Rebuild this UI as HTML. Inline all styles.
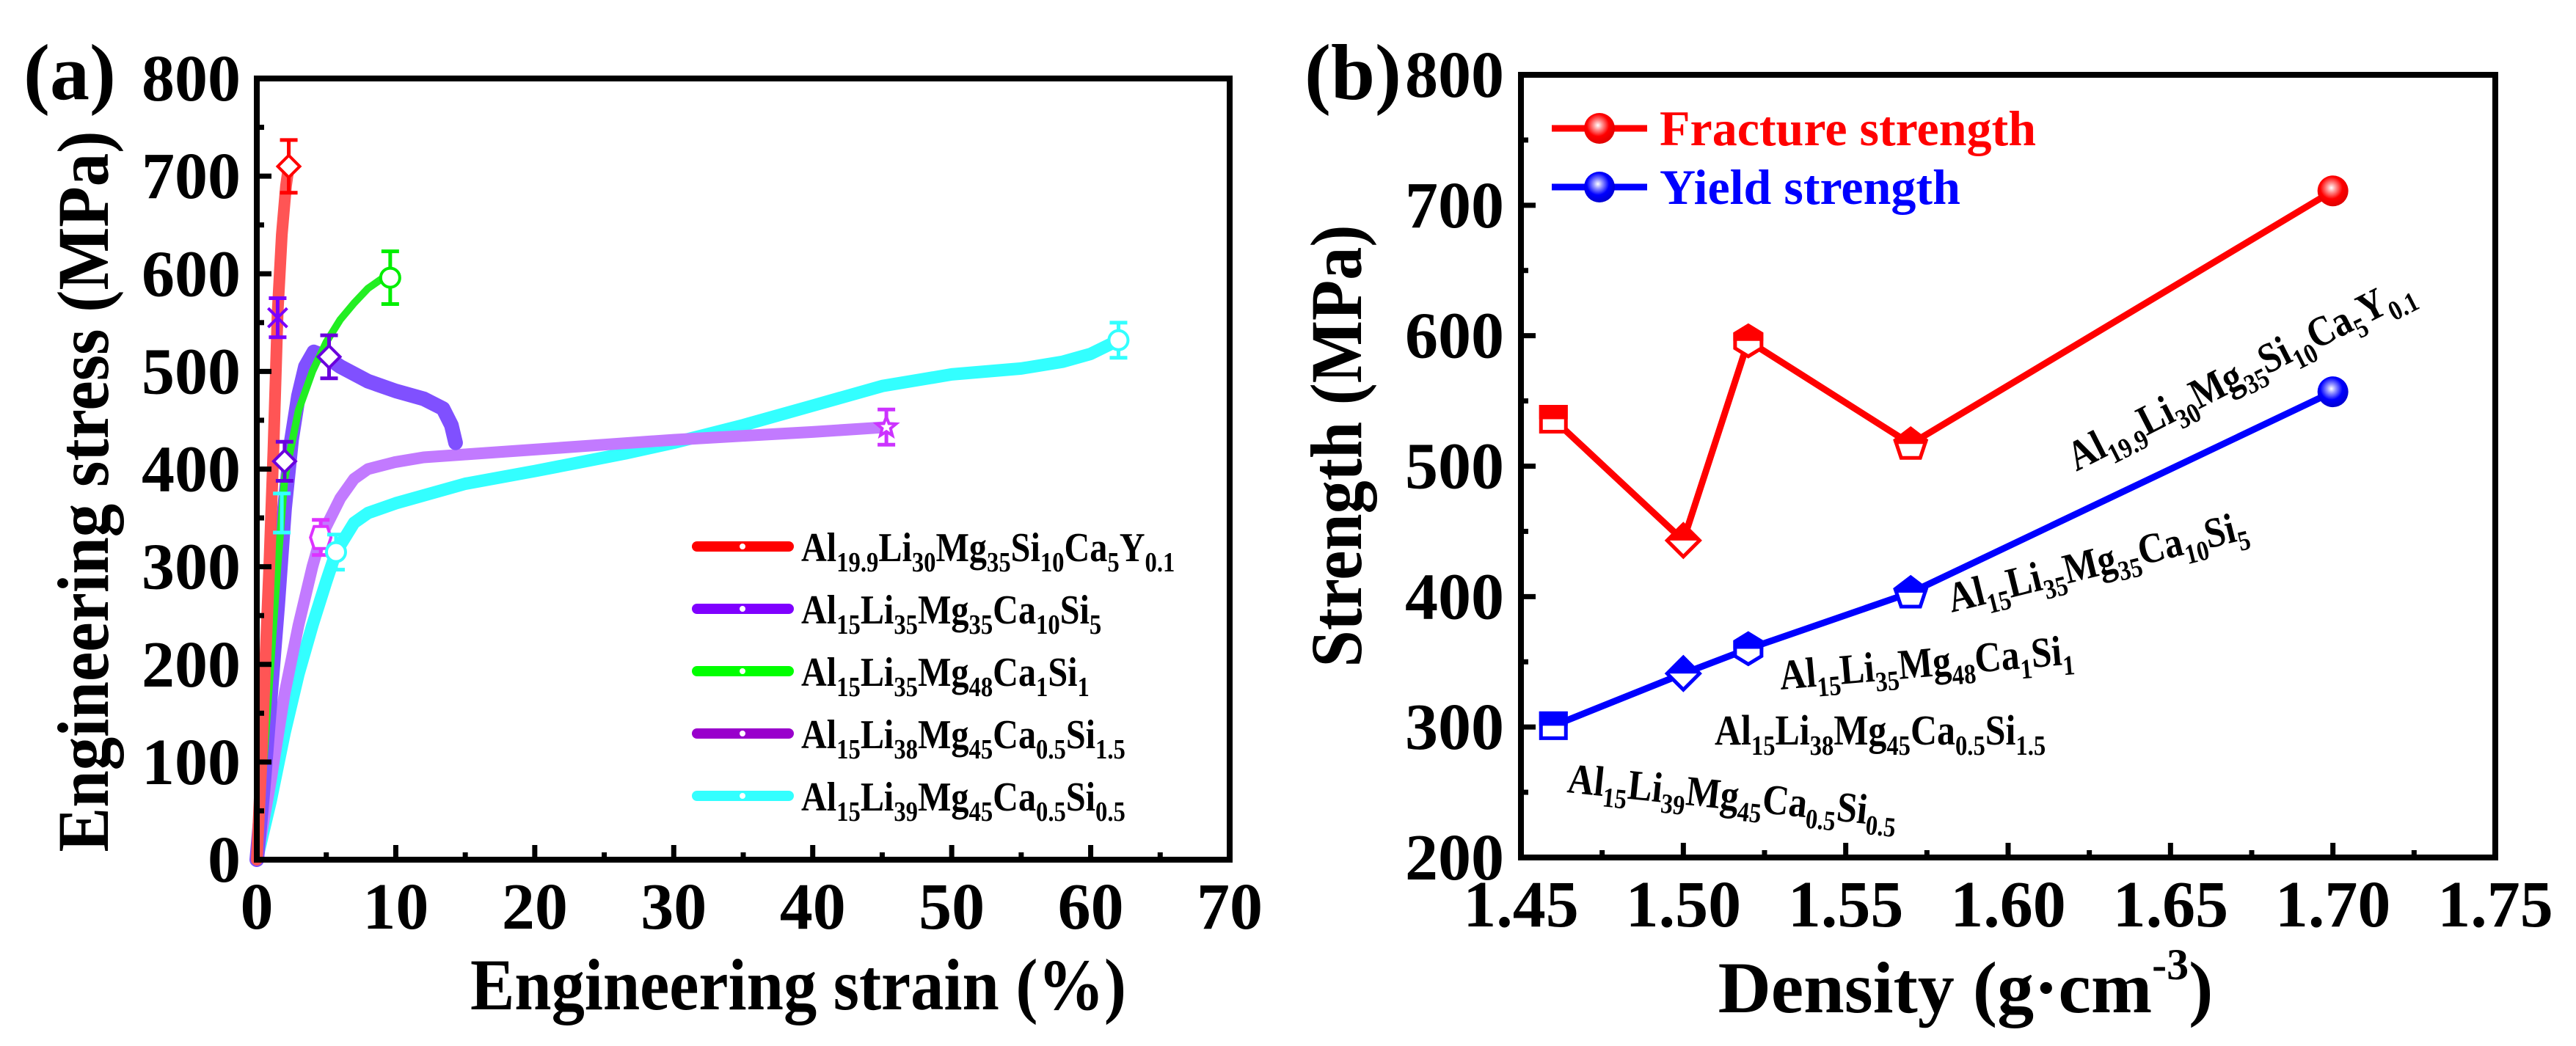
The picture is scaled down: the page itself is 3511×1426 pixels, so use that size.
<!DOCTYPE html>
<html><head><meta charset="utf-8"><style>
html,body{margin:0;padding:0;background:#fff}
svg{display:block}
text{font-family:"Liberation Serif",serif;font-weight:bold;fill:#000}
</style></head><body>
<svg id="fig" width="3511" height="1426" viewBox="0 0 3511 1426" xmlns="http://www.w3.org/2000/svg">
<defs>
<radialGradient id="gR" cx="0.45" cy="0.4" r="0.6"><stop offset="0" stop-color="#fff"/><stop offset="0.25" stop-color="#ff9090"/><stop offset="0.6" stop-color="#ff0000"/><stop offset="1" stop-color="#e00000"/></radialGradient>
<radialGradient id="gB" cx="0.45" cy="0.4" r="0.6"><stop offset="0" stop-color="#fff"/><stop offset="0.25" stop-color="#9090ff"/><stop offset="0.6" stop-color="#0000ff"/><stop offset="1" stop-color="#0000d0"/></radialGradient>
</defs>
<g id="pa"></g>
<g id="pb"></g>
</svg>
<script>
// ===== Panel (a) data =====
const aXTicks = [0,10,20,30,40,50,60,70];
const aYTicks = [0,100,200,300,400,500,600,700,800];
const redStrain = [0,0.3,0.6,0.9,1.2,1.5,1.8,2.1,2.3];
const redStress = [0,90,200,300,420,560,640,690,710];
const violetStrain = [0,0.5,1,1.5,2,2.5,3,3.5,4.1,5,6,8,10,12,13.4,14,14.3];
const violetStress = [0,80,170,260,360,430,475,505,520,515,505,490,480,472,462,445,427];
const greenStrain = [0,0.5,1,1.5,2,3,4,5,6,7,8,9,9.6];
const greenStress = [0,100,200,300,390,460,500,530,553,570,585,595,598];
const purpleStrain = [0,1,2,3,4,4.6,5.3,6,7,8,9.9,12,15,20,25,30,35,40,45.3];
const purpleStress = [0,80,170,240,300,330,350,370,390,400,407,412,415,420,425,430,434,438,443];
const cyanStrain = [0,1,2,3,4,5,5.7,7,8,10,15,20,26.5,30,35,40,45,50,55,58,60,62];
const cyanStress = [0,60,130,190,240,285,315,345,355,365,385,398,416,427,445,465,485,497,503,510,518,532];
// markers: [strain, stress, error]
const redMarks = [[2.3,710,27]];
const violetMarks = [[1.5,555,20],[2.0,408,20],[5.2,515,22]];
const greenMarks = [[9.6,596,27]];
const purpleMarks = [[4.6,330,18],[45.3,443,18]];
const cyanMarks = [[1.8,355,20],[5.7,315,18],[62,532,18]];
const aLegendNames = [
 [["Al",""],["19.9","s"],["Li",""],["30","s"],["Mg",""],["35","s"],["Si",""],["10","s"],["Ca",""],["5","s"],["Y",""],["0.1","s"]],
 [["Al",""],["15","s"],["Li",""],["35","s"],["Mg",""],["35","s"],["Ca",""],["10","s"],["Si",""],["5","s"]],
 [["Al",""],["15","s"],["Li",""],["35","s"],["Mg",""],["48","s"],["Ca",""],["1","s"],["Si",""],["1","s"]],
 [["Al",""],["15","s"],["Li",""],["38","s"],["Mg",""],["45","s"],["Ca",""],["0.5","s"],["Si",""],["1.5","s"]],
 [["Al",""],["15","s"],["Li",""],["39","s"],["Mg",""],["45","s"],["Ca",""],["0.5","s"],["Si",""],["0.5","s"]]
];
// ===== Panel (b) data =====
const density = [1.46,1.50,1.52,1.57,1.70];
const fracture = [536,443,596,517,711];
const yieldS = [301,341,360,403,557];
const bXTicks = [1.45,1.50,1.55,1.60,1.65,1.70,1.75];
const bYTicks = [200,300,400,500,600,700,800];

const NS="http://www.w3.org/2000/svg";
function mk(tag,attrs,parent){const e=document.createElementNS(NS,tag);for(const k in attrs)e.setAttribute(k,attrs[k]);if(parent)parent.appendChild(e);return e;}

// ---------- Panel a ----------
const pa=document.getElementById('pa');
const aL=350,aR=1676,aT=107,aB=1172;
const ax=v=>aL+(v-0)/70*(aR-aL);
const ay=v=>aB-(v-0)/800*(aB-aT);

function curve(xs,ys,color,w,name,op){
  let d='';xs.forEach((x,i)=>{d+=(i?'L':'M')+ax(x).toFixed(1)+','+ay(ys[i]).toFixed(1);});
  const p=mk('path',{d:d,fill:'none',stroke:color,'stroke-width':w,'stroke-linejoin':'round','stroke-linecap':'round',opacity:op||1},pa);
  
  
}
curve(cyanStrain,cyanStress,'#33ffff',17,'curve-al15li39');
curve(purpleStrain,purpleStress,'#c27aff',16,'curve-al15li38');
curve(violetStrain,violetStress,'#8050ff',20,'curve-al15li35mg35');
curve(greenStrain,greenStress,'#22ee22',10,'curve-al15li35mg48');
curve(redStrain,redStress,'#ff5555',16,'curve-al19-9li30');

function errMark(m,color,shape,name){
  const g=mk('g',{},pa);
  
  
  const x=ax(m[0]),y=ay(m[1]),t=ay(m[1]+m[2]),b=ay(m[1]-m[2]);
  mk('path',{d:`M${x},${t}V${b}M${x-12},${t}H${x+12}M${x-12},${b}H${x+12}`,stroke:color,'stroke-width':5,fill:'none'},g);
  const s={fill:'#fff',stroke:color,'stroke-width':4};
  if(shape==='diamond')mk('path',Object.assign({d:`M${x},${y-15}L${x+15},${y}L${x},${y+15}L${x-15},${y}Z`},s),g);
  else if(shape==='circle')mk('circle',Object.assign({cx:x,cy:y,r:13},s),g);
  else if(shape==='hex')mk('path',Object.assign({d:`M${x-9},${y-15}H${x+9}L${x+14},${y}L${x+9},${y+15}H${x-9}L${x-14},${y}Z`},s),g);
  else if(shape==='star'){mk('path',{d:`M${x-13},${y-13}L${x+13},${y+13}M${x+13},${y-13}L${x-13},${y+13}M${x},${y-15}V${y+15}`,stroke:color,'stroke-width':4},g);}
  else if(shape==='star5'){let d='';for(let i=0;i<10;i++){const r=i%2?6:14,a=-Math.PI/2+i*Math.PI/5;d+=(i?'L':'M')+(x+r*Math.cos(a)).toFixed(1)+','+(y+r*Math.sin(a)).toFixed(1);}mk('path',Object.assign({d:d+'Z'},s),g);}
}
errMark(redMarks[0],'#ff0000','diamond','marker-red-fracture');
errMark(violetMarks[0],'#7a00ff','star','marker-violet-1');
errMark(violetMarks[1],'#6a00dd','diamond','marker-violet-2');
errMark(violetMarks[2],'#6a00dd','diamond','marker-violet-3');
errMark(greenMarks[0],'#00ee00','circle','marker-green');
errMark(purpleMarks[0],'#dd33ff','hex','marker-purple-1');
errMark(purpleMarks[1],'#cc33ff','star5','marker-purple-2');
errMark(cyanMarks[0],'#33ffff','none','marker-cyan-1');
errMark(cyanMarks[1],'#33ffff','circle','marker-cyan-2');
errMark(cyanMarks[2],'#33ffff','circle','marker-cyan-3');

// axes a
const frameA=mk('rect',{x:aL,y:aT,width:aR-aL,height:aB-aT,fill:'none',stroke:'#000','stroke-width':8},pa);


aXTicks.forEach((v,i)=>{
  const x=ax(v);
  if(i>0&&i<aXTicks.length-1)mk('line',{x1:x,x2:x,y1:aB,y2:aB-20,stroke:'#000','stroke-width':7},pa);
  if(i<aXTicks.length-1){const xm=ax(v+5);mk('line',{x1:xm,x2:xm,y1:aB,y2:aB-10,stroke:'#000','stroke-width':7},pa);}
  const t=mk('text',{x:x,y:1266,'font-size':90,'text-anchor':'middle'},pa);t.textContent=v;
  
  
});
aYTicks.forEach((v,i)=>{
  const y=ay(v);
  if(i>0&&i<aYTicks.length-1)mk('line',{x1:aL,x2:aL+20,y1:y,y2:y,stroke:'#000','stroke-width':7},pa);
  if(i<aYTicks.length-1){const ym=ay(v+50);mk('line',{x1:aL,x2:aL+10,y1:ym,y2:ym,stroke:'#000','stroke-width':7},pa);}
  const t=mk('text',{x:328,y:y+30,'font-size':90,'text-anchor':'end'},pa);t.textContent=v;
  
  
});
let tt=mk('text',{x:1088,y:1376,'font-size':100,'text-anchor':'middle',textLength:894,lengthAdjust:'spacingAndGlyphs'},pa);
tt.textContent='Engineering strain (%)';


tt=mk('text',{x:0,y:0,'font-size':100,'text-anchor':'middle',textLength:983,lengthAdjust:'spacingAndGlyphs',transform:'translate(147,670) rotate(-90)'},pa);
tt.textContent='Engineering stress (MPa)';


tt=mk('text',{x:32,y:135,'font-size':108},pa);tt.textContent='(a)';



// legend a
const legColors=['#ff0000','#7f00ff','#00ff00','#9900cc','#33ffff'];
const legY=[745,830,915,1000,1085];
function chem(parent,x,y,parts,big,small,dy,sx){
  const w=mk('g',{transform:`translate(${x},${y}) scale(${sx||0.88},1)`},parent);
  const t=mk('text',{x:0,y:0,'font-size':big},w);
  parts.forEach(p=>{const s=mk('tspan',{},t);s.textContent=p[0];
    if(p[1]==='s'){s.setAttribute('font-size',small);s.setAttribute('dy',dy);} else {s.setAttribute('dy',0);} });
  const sp=t.querySelectorAll('tspan');
  for(let i=1;i<sp.length;i++){ if(parts[i][1]!=='s'&&parts[i-1][1]==='s')sp[i].setAttribute('dy',-dy); }
  return t;
}
legY.forEach((y,i)=>{
  const g=mk('g',{},pa);
  
  
  mk('line',{x1:950,x2:1075,y1:y,y2:y,stroke:legColors[i],'stroke-width':14,'stroke-linecap':'round'},g);
  mk('circle',{cx:1012,cy:y,r:4,fill:'#fff'},g);
  chem(g,1092,y+20,aLegendNames[i],56,38,14,0.86);
});

// ---------- Panel b ----------
const pb=document.getElementById('pb');
const bL=2073,bR=3401,bT=102,bB=1169;
const bx=v=>bL+(v-1.45)/0.30*(bR-bL);
const by=v=>bB-(v-200)/600*(bB-bT);
function lineB(ys,color,name){
  let d='';density.forEach((x,i)=>{d+=(i?'L':'M')+bx(x).toFixed(1)+','+by(ys[i]).toFixed(1);});
  const p=mk('path',{d:d,fill:'none',stroke:color,'stroke-width':9,'stroke-linejoin':'round'},pb);
  
  
}
lineB(fracture,'#ff0000','fracture-line');
lineB(yieldS,'#0000ff','yield-line');
const shapes=['square','diamond','hexagon','pentagon','sphere'];
let clipId=0;
function markerB(x,y,shape,color,grad,name){
  const g=mk('g',{},pb);
  
  
  if(shape==='sphere'){mk('circle',{cx:x,cy:y,r:21,fill:'url(#'+grad+')'},g);return;}
  let d;
  if(shape==='square')d=`M${x-17},${y-17}H${x+17}V${y+17}H${x-17}Z`;
  else if(shape==='diamond')d=`M${x},${y-22}L${x+22},${y}L${x},${y+22}L${x-22},${y}Z`;
  else if(shape==='hexagon')d=`M${x},${y-21}L${x+18},${y-10}L${x+18},${y+10}L${x},${y+21}L${x-18},${y+10}L${x-18},${y-10}Z`;
  else d=`M${x},${y-21}L${x+21},${y-5}L${x+13},${y+19}L${x-13},${y+19}L${x-21},${y-5}Z`;
  const id='cl'+(clipId++);
  const cp=mk('clipPath',{id:id},g);mk('rect',{x:x-30,y:y-30,width:60,height:30},cp);
  mk('path',{d:d,fill:'#fff',stroke:color,'stroke-width':5},g);
  mk('path',{d:d,fill:color,stroke:color,'stroke-width':5,'clip-path':'url(#'+id+')'},g);
}
density.forEach((d,i)=>{
  markerB(bx(d),by(fracture[i]),shapes[i],'#ff0000','gR','fracture-point');
  markerB(bx(d),by(yieldS[i]),shapes[i],'#0000ff','gB','yield-point');
});
const frameB=mk('rect',{x:bL,y:bT,width:bR-bL,height:bB-bT,fill:'none',stroke:'#000','stroke-width':8},pb);


bXTicks.forEach((v,i)=>{
  const x=bx(v);
  if(i>0&&i<bXTicks.length-1)mk('line',{x1:x,x2:x,y1:bB,y2:bB-20,stroke:'#000','stroke-width':7},pb);
  if(i<bXTicks.length-1){const xm=bx(v+0.025);mk('line',{x1:xm,x2:xm,y1:bB,y2:bB-10,stroke:'#000','stroke-width':7},pb);}
  const t=mk('text',{x:x,y:1263,'font-size':90,'text-anchor':'middle'},pb);t.textContent=v.toFixed(2);
  
  
});
bYTicks.forEach((v,i)=>{
  const y=by(v);
  if(i>0&&i<bYTicks.length-1)mk('line',{x1:bL,x2:bL+20,y1:y,y2:y,stroke:'#000','stroke-width':7},pb);
  if(i<bYTicks.length-1){const ym=by(v+50);mk('line',{x1:bL,x2:bL+10,y1:ym,y2:ym,stroke:'#000','stroke-width':7},pb);}
  const t=mk('text',{x:2050,y:y+30,'font-size':90,'text-anchor':'end'},pb);t.textContent=v;
  
  
});
tt=mk('text',{x:2679,y:1380,'font-size':100,'text-anchor':'middle'},pb);
tt.innerHTML='Density (g·cm<tspan font-size="60" dy="-45">-3</tspan><tspan dy="45">)</tspan>';


tt=mk('text',{x:0,y:0,'font-size':100,'text-anchor':'middle',textLength:603,lengthAdjust:'spacingAndGlyphs',transform:'translate(1855,608) rotate(-90)'},pb);
tt.textContent='Strength (MPa)';


tt=mk('text',{x:1778,y:135,'font-size':108},pb);tt.textContent='(b)';


// legend b
[['Fracture strength','#ff0000','gR',175],['Yield strength','#0000ff','gB',255]].forEach(L=>{
  const g=mk('g',{},pb);
  
  
  mk('line',{x1:2115,x2:2245,y1:L[3],y2:L[3],stroke:L[1],'stroke-width':9},g);
  mk('circle',{cx:2180,cy:L[3],r:21,fill:'url(#'+L[2]+')'},g);
  const t=mk('text',{x:2262,y:L[3]+23,'font-size':68,fill:L[1]},g);t.textContent=L[0];t.style.fill=L[1];
});
// annotations b
const ann=[
 [2135,1080,6,aLegendNames[4]],
 [2337,1015,0,aLegendNames[3]],
 [2427,940,-5,aLegendNames[2]],
 [2660,835,-14,aLegendNames[1]],
 [2830,643,-27,aLegendNames[0]]
];
ann.forEach(a=>{
  const g=mk('g',{transform:`translate(${a[0]},${a[1]}) rotate(${a[2]})`},pb);
  
  
  chem(g,0,0,a[3],58,38,14,0.86);
});
</script>
</body></html>
